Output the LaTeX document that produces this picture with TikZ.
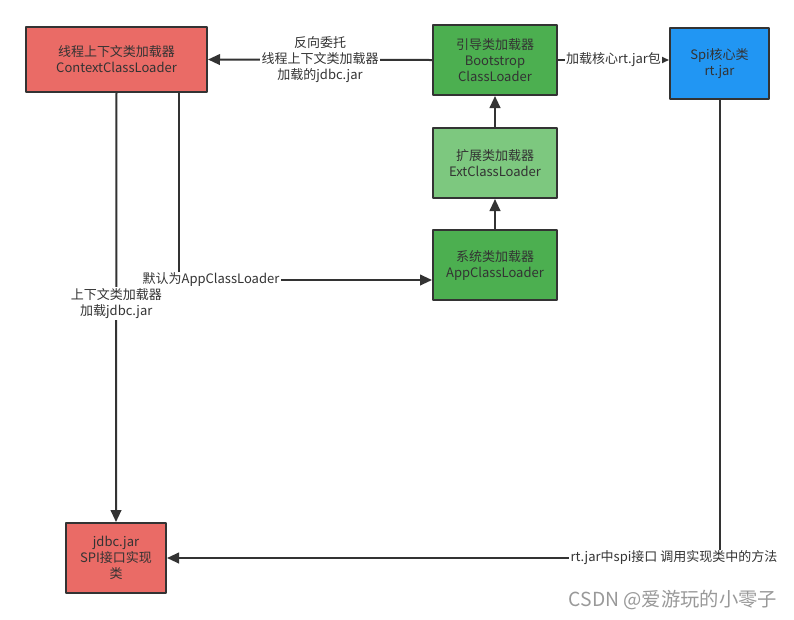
\documentclass[tikz,border=0pt]{standalone}
\usepackage{fontspec}
\setmainfont{Noto Sans CJK SC}
\usetikzlibrary{arrows.meta}

\definecolor{ctxred}{HTML}{EA6B66}
\definecolor{bootgreen}{HTML}{4CAF50}
\definecolor{extgreen}{HTML}{7DC87F}
\definecolor{spiblue}{HTML}{2196F3}
\definecolor{edgegray}{HTML}{333333}

\tikzset{
  loaderbox/.style={draw=edgegray, line width=1.5pt, align=center,
    inner sep=0pt, text=black!80, font=\fontsize{9.75}{12}\selectfont},
  link/.style={draw=edgegray, line width=1.5pt,
    -{Triangle[length=9pt,width=8pt]}},
  linktext/.style={fill=white, inner sep=1pt, align=center,
    text=black!80, font=\fontsize{9.75}{12}\selectfont},
}

\begin{document}
\begin{tikzpicture}[x=0.75pt,y=-0.75pt,line join=round]
  % Keep the frame of the reference image.
  \useasboundingbox (0,0) rectangle (794,619);

  % Loader boxes.
  \node[loaderbox, fill=ctxred, minimum width=135.75pt, minimum height=48.75pt]
    (ctx) at (116.5,59.5) {线程上下文类加载器\\ContextClassLoader};
  \node[loaderbox, fill=bootgreen, minimum width=93pt, minimum height=52.5pt]
    (boot) at (495,60) {引导类加载器\\Bootstrop\\ClassLoader};
  \node[loaderbox, fill=spiblue, minimum width=74.25pt, minimum height=53.25pt]
    (spi) at (719.5,63.5) {Spi核心类\\rt.jar};
  \node[loaderbox, fill=extgreen, minimum width=93pt, minimum height=52.5pt]
    (ext) at (495,163) {扩展类加载器\\ExtClassLoader};
  \node[loaderbox, fill=bootgreen, minimum width=93pt, minimum height=52.5pt]
    (app) at (495,265) {系统类加载器\\AppClassLoader};
  \node[loaderbox, fill=ctxred, minimum width=75pt, minimum height=52.5pt]
    (jdbc) at (116,558) {jdbc.jar\\SPI接口实现\\类};

  % Bend points of the elbow links.
  \coordinate (appbend) at (179,280);

  % Parent delegation chain.
  \draw[link] (app) -- (ext);
  \draw[link] (ext) -- (boot);

  % Links between the loaders and the jars.
  \draw[link] (boot.west) -- node[linktext] {反向委托\\线程上下文类加载器\\加载的jdbc.jar} (ctx.east);
  \draw[link] (boot.east) -- node[linktext] {加载核心rt.jar包} (spi.west |- boot.east);
  \draw[link] (ctx.south) -- node[linktext, pos=0.49] {上下文类加载器\\加载jdbc.jar} (jdbc.north);
  \draw[link] (ctx.south -| appbend) -- (appbend) -- (app.west |- appbend);
  \node[linktext] (deflabel) at (211,280) {默认为AppClassLoader};
  \draw[link] (spi.south) |- (jdbc.east);
  \node[linktext] (spilabel) at (674,558) {rt.jar中spi接口 调用实现类中的方法};

  % Source mark.
  \node[text=black!40, font=\fontsize{14.5}{16}\selectfont] (mark) at (673,600) {CSDN @爱游玩的小零子};
\end{tikzpicture}
\end{document}
